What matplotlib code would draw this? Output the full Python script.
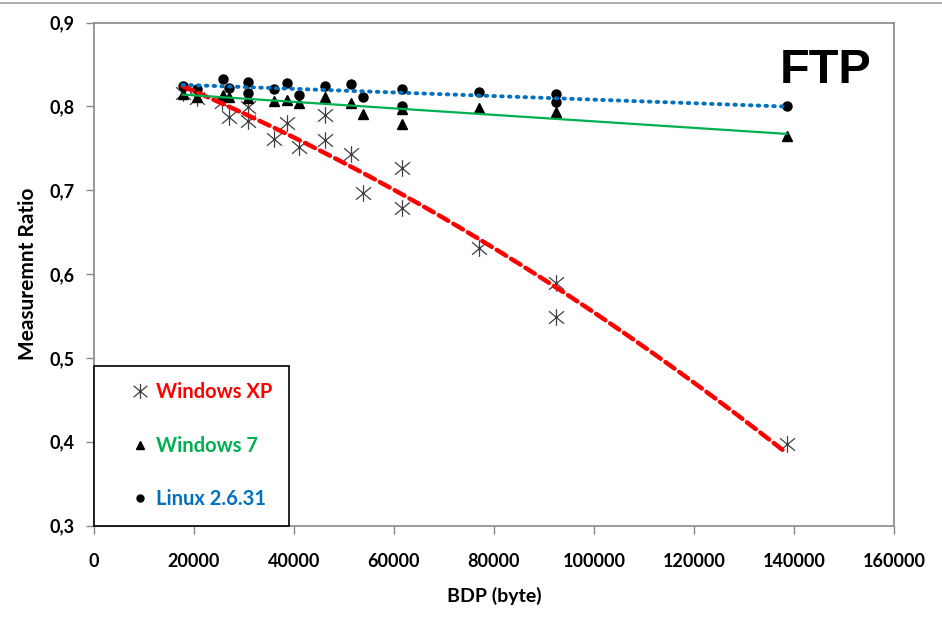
import numpy as np
import matplotlib
matplotlib.use("Agg")
import matplotlib.pyplot as plt
from matplotlib.ticker import FuncFormatter
from matplotlib.lines import Line2D
from matplotlib.path import Path

# Windows XP
xp_x = [17700, 20500, 25500, 26900, 30700, 30700, 35900, 38500, 40900, 46100,
        46100, 51300, 53700, 61500, 61500, 76900, 92300, 92300, 138500]
xp_y = [0.816, 0.810, 0.805, 0.787, 0.799, 0.782, 0.761, 0.780, 0.751, 0.790,
        0.760, 0.743, 0.697, 0.726, 0.679, 0.631, 0.589, 0.549, 0.397]
# Windows 7
w7_x = [17700, 20500, 25700, 26900, 30700, 35900, 38500, 40900, 46100, 51300,
        53700, 61500, 61500, 76900, 92300, 138500]
w7_y = [0.815, 0.811, 0.813, 0.811, 0.810, 0.806, 0.808, 0.804, 0.811, 0.804,
        0.791, 0.797, 0.779, 0.798, 0.793, 0.765]
# Linux 2.6.31
lx_x = [17700, 20500, 25700, 26900, 30700, 30700, 35900, 38500, 40900, 46100,
        51300, 53700, 61500, 61500, 76900, 92300, 92300, 138500]
lx_y = [0.824, 0.821, 0.833, 0.822, 0.829, 0.816, 0.821, 0.828, 0.814, 0.824,
        0.827, 0.811, 0.821, 0.800, 0.817, 0.815, 0.805, 0.800]

labels = ["Windows XP", "Windows 7", "Linux 2.6.31"]
colors = ["#FF0000", "#00B050", "#0070C0"]
x_ticks = [0, 20000, 40000, 60000, 80000, 100000, 120000, 140000, 160000]
y_ticks = [0.3, 0.4, 0.5, 0.6, 0.7, 0.8, 0.9]

FONT = "Lato"

fig = plt.figure(figsize=(9.42, 6.23), dpi=100)
ax = fig.add_axes([94/942, 1-525.5/623, 800/942, 503/623])

# top border line of the figure
fig.add_artist(Line2D([0, 1], [1-3/623, 1-3/623], color="#A0A0A0", lw=1.2,
                      transform=fig.transFigure))

# asterisk marker: X plus vertical bar
ast = Path([(0, -1), (0, 1), (-0.9, -0.75), (0.9, 0.75), (-0.9, 0.75), (0.9, -0.75)],
           [Path.MOVETO, Path.LINETO, Path.MOVETO, Path.LINETO, Path.MOVETO, Path.LINETO])

ax.plot(xp_x, xp_y, linestyle="none", marker=ast, markersize=12,
        markeredgecolor="#404040", markerfacecolor="none", markeredgewidth=0.9, zorder=3)
ax.plot(w7_x, w7_y, linestyle="none", marker="^", markersize=7.5,
        color="black", zorder=3)
ax.plot(lx_x, lx_y, linestyle="none", marker="o", markersize=6.5,
        color="black", zorder=3)

# trend lines
xs = np.linspace(min(xp_x), max(xp_x), 200)
c = np.polyfit(xp_x, xp_y, 2)
ax.plot(xs, np.polyval(c, xs), color=colors[0], lw=3.2, linestyle=(0, (2.5, 1.3)),
        dash_capstyle="round", zorder=4)
xs7 = np.linspace(min(w7_x), max(w7_x), 50)
c7 = np.polyfit(w7_x, w7_y, 1)
ax.plot(xs7, np.polyval(c7, xs7), color=colors[1], lw=1.6, zorder=4)
xsl = np.linspace(min(lx_x), max(lx_x), 50)
cl = np.polyfit(lx_x, lx_y, 1)
ax.plot(xsl, np.polyval(cl, xsl), color=colors[2], lw=2.8, linestyle=(0, (0.4, 1.6)),
        dash_capstyle="round", zorder=4)

ax.set_xlim(0, 160000)
ax.set_ylim(0.3, 0.9)
ax.set_xticks(x_ticks)
ax.set_yticks(y_ticks)
ax.yaxis.set_major_formatter(FuncFormatter(lambda v, p: f"{v:.1f}".replace(".", ",")))
ax.xaxis.set_major_formatter(FuncFormatter(lambda v, p: f"{int(round(v))}"))
for s in ax.spines.values():
    s.set_color("#888888")
    s.set_linewidth(1.2)
ax.tick_params(axis="both", colors="#888888", length=6, width=1, labelcolor="black")
ax.tick_params(axis="x", pad=14)
ax.tick_params(axis="y", pad=8)
for lab in ax.get_xticklabels() + ax.get_yticklabels():
    lab.set_fontfamily(FONT)
    lab.set_fontweight("bold")
    lab.set_fontsize(13)

ax.set_xlabel("BDP (byte)", fontfamily=FONT, fontweight="bold", fontsize=14, labelpad=12)
ax.set_ylabel("Measuremnt Ratio", fontfamily=FONT, fontweight="bold", fontsize=15, labelpad=8)

ax.text(0.915, 0.905, "FTP", transform=ax.transAxes, fontfamily="Liberation Sans",
        fontweight="bold", fontsize=35, ha="center", va="center")

handles = [
    Line2D([], [], linestyle="none", marker=ast, markersize=11, markeredgecolor="#404040",
           markerfacecolor="none", markeredgewidth=0.9),
    Line2D([], [], linestyle="none", marker="^", markersize=6, color="black"),
    Line2D([], [], linestyle="none", marker="o", markersize=5, color="black"),
]
leg = ax.legend(handles, labels, loc="lower left", bbox_to_anchor=(0, 0),
                borderaxespad=0, frameon=True, fancybox=False, edgecolor="black",
                labelcolor=colors, prop={"family": FONT, "weight": "bold", "size": 14.5},
                labelspacing=1.68, borderpad=0.8, handlelength=3.0, handletextpad=-0.7,
                framealpha=1)
leg.get_frame().set_linewidth(1.2)

fig.savefig("out.png", dpi=100)
